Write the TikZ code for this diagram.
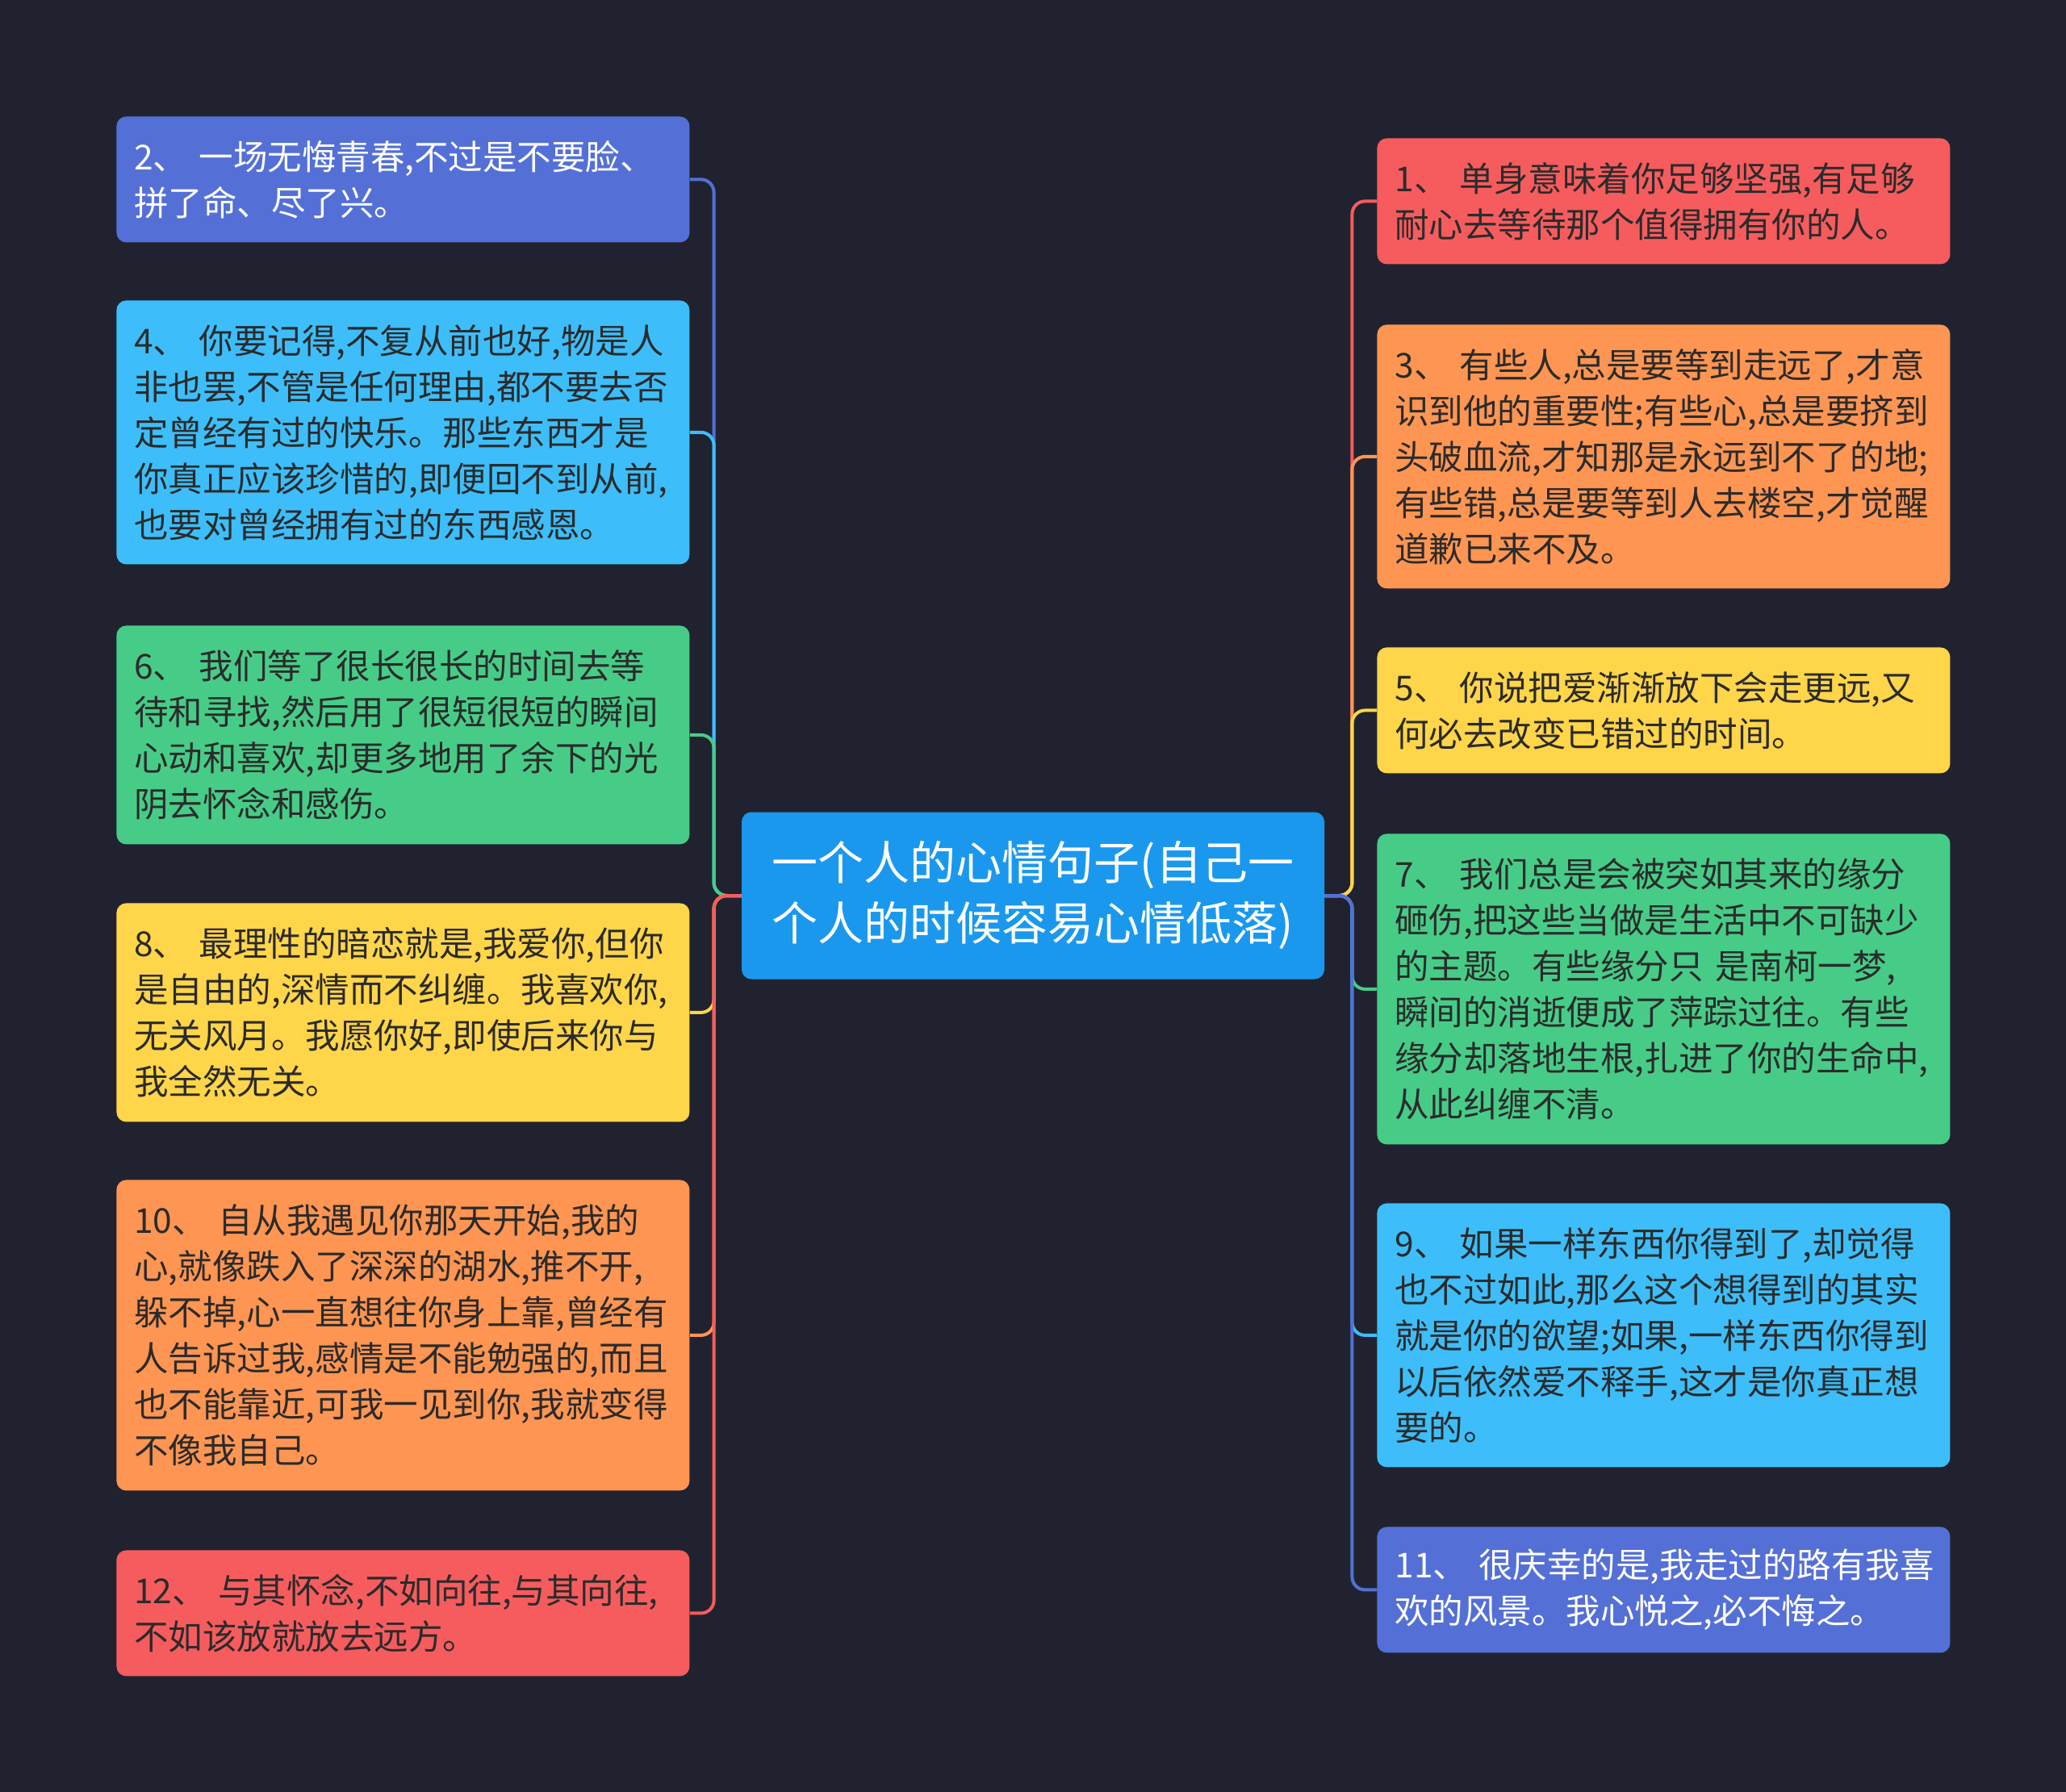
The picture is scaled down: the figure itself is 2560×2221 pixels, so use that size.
\documentclass[tikz,border=0pt]{standalone}
\usepackage{fontspec}
\setmainfont{Noto Sans CJK SC}
\definecolor{bgc}{HTML}{20232F}
\definecolor{cred}{HTML}{F65C5E}
\definecolor{corange}{HTML}{FF9552}
\definecolor{cyellow}{HTML}{FFD54A}
\definecolor{cgreen}{HTML}{47CC88}
\definecolor{clblue}{HTML}{3DBEFA}
\definecolor{cpurple}{HTML}{5470D6}
\definecolor{ccenter}{HTML}{1A98EE}
\definecolor{tdark}{HTML}{2B2B2B}
\begin{document}
\begin{tikzpicture}[x=0.5pt,y=-0.5pt,
  leaf/.style={rounded corners=6pt, text width=333pt, inner xsep=11pt, inner ysep=0pt,
    align=left, anchor=north west, text=tdark,
    font=\fontsize{21.25pt}{28.5pt}\selectfont},
  two/.style={minimum height=78pt},
  four/.style={minimum height=135.5pt},
  five/.style={minimum height=163.5pt},
  six/.style={minimum height=192.5pt},
  hub/.style={rounded corners=6pt, minimum width=361pt, minimum height=103.5pt,
    align=center, text=white, fill=ccenter, inner sep=0pt,
    font=\fontsize{28.5pt}{37.5pt}\selectfont},
  conn/.style={line width=2pt, rounded corners=8pt}]
\fill[bgc] (0,0) rectangle (2560,2221);
\node[hub] (C) at (1280,1110) {一个人的心情句子(自己一\\个人的时候容易心情低落)};
% left
\node[leaf,two,fill=cpurple,text=white] (L2) at (144,144) {2、~一场无悔青春,不过是不要脸、\\拼了命、尽了兴。};
\node[leaf,five,fill=clblue] (L4) at (144,372) {4、~你要记得,不复从前也好,物是人\\非也罢,不管是任何理由,都不要去否\\定曾经有过的快乐。那些东西才是\\你真正应该珍惜的,即便回不到从前,\\也要对曾经拥有过的东西感恩。};
\node[leaf,four,fill=cgreen] (L6) at (144,775) {6、~我们等了很长很长的时间去等\\待和寻找,然后用了很短很短的瞬间\\心动和喜欢,却更多地用了余下的光\\阴去怀念和感伤。};
\node[leaf,four,fill=cyellow] (L8) at (144,1119) {8、~最理性的暗恋就是,我爱你,但你\\是自由的,深情而不纠缠。我喜欢你,\\无关风月。我愿你好,即使后来你与\\我全然无关。};
\node[leaf,six,fill=corange] (L10) at (144,1462) {10、~自从我遇见你那天开始,我的\\心,就像跌入了深深的湖水,推不开,\\躲不掉,心一直想往你身上靠,曾经有\\人告诉过我,感情是不能勉强的,而且\\也不能靠近,可我一见到你,我就变得\\不像我自己。};
\node[leaf,two,fill=cred] (L12) at (144,1921) {12、~与其怀念,不如向往,与其向往,\\不如该放就放去远方。};
% right
\node[leaf,two,fill=cred] (R1) at (1706,171) {1、~单身意味着你足够坚强,有足够\\耐心去等待那个值得拥有你的人。};
\node[leaf,five,fill=corange] (R3) at (1706,402) {3、~有些人,总是要等到走远了,才意\\识到他的重要性;有些心,总是要挤到\\头破血流,才知那是永远到不了的地;\\有些错,总是要等到人去楼空,才觉醒\\道歉已来不及。};
\node[leaf,two,fill=cyellow] (R5) at (1706,802) {5、~你说把爱渐渐放下会走更远,又\\何必去改变已错过的时间。};
\node[leaf,six,fill=cgreen] (R7) at (1706,1033) {7、~我们总是会被突如其来的缘分\\砸伤,把这些当做是生活中不可缺少\\的主题。有些缘分只~是南柯一梦,\\瞬间的消逝便成了萍踪过往。有些\\缘分却落地生根,扎进了你的生命中,\\从此纠缠不清。};
\node[leaf,five,fill=clblue] (R9) at (1706,1491) {9、~如果一样东西你得到了,却觉得\\也不过如此,那么这个想得到的其实\\就是你的欲望;如果,一样东西你得到\\以后依然爱不释手,这才是你真正想\\要的。};
\node[leaf,two,fill=cpurple,text=white] (R11) at (1706,1892) {11、~很庆幸的是,我走过的路有我喜\\欢的风景。我心悦之,必不悔之。};
% connectors left
\draw[conn,cpurple] (C.west) -- ++(-34,0) |- (L2.east);
\draw[conn,clblue] (C.west) -- ++(-34,0) |- (L4.east);
\draw[conn,cgreen] (C.west) -- ++(-34,0) |- (L6.east);
\draw[conn,cyellow] (C.west) -- ++(-34,0) |- (L8.east);
\draw[conn,corange] (C.west) -- ++(-34,0) |- (L10.east);
\draw[conn,cred] (C.west) -- ++(-34,0) |- (L12.east);
% connectors right
\draw[conn,cred] (C.east) -- ++(34,0) |- (R1.west);
\draw[conn,corange] (C.east) -- ++(34,0) |- (R3.west);
\draw[conn,cyellow] (C.east) -- ++(34,0) |- (R5.west);
\draw[conn,cgreen] (C.east) -- ++(34,0) |- (R7.west);
\draw[conn,clblue] (C.east) -- ++(34,0) |- (R9.west);
\draw[conn,cpurple] (C.east) -- ++(34,0) |- (R11.west);
\end{tikzpicture}
\end{document}
